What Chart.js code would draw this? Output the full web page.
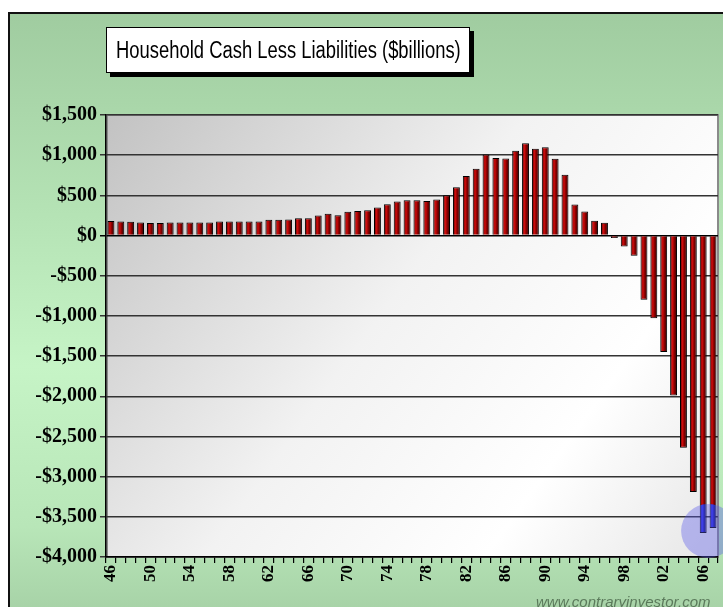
<!DOCTYPE html>
<html>
<head>
<meta charset="utf-8">
<script src="https://cdn.jsdelivr.net/npm/chart.js@4.4.1/dist/chart.umd.min.js"></script>
<style>
  html, body { margin: 0; padding: 0; background: #fff; overflow: hidden; width: 723px; height: 607px; }
  #frame {
    position: absolute; left: 8px; top: 12px; width: 760px; height: 640px;
    border: 2px solid #111;
    background: linear-gradient(to bottom, #a0cca0 0%, #b4e2b4 30%, #c6f4c6 55%, #b8e6b8 80%, #9ec89e 100%);
  }
  #chart { position: absolute; left: 0; top: 0; }
  #title {
    position: absolute; left: 106px; top: 27px; width: 362px; height: 44px;
    background: #fff; border: 1px solid #000; box-shadow: 4px 4px 0 #000;
    display: flex; align-items: center; justify-content: center; overflow: hidden;
  }
  #title span {
    font: 23px "Liberation Sans", Arial, sans-serif; color: #000;
    white-space: nowrap; display: inline-block; transform: scaleX(0.8);
  }
  #source {
    position: absolute; left: 536px; top: 593px;
    font: italic 15px "Liberation Sans", Arial, sans-serif; color: #5b7a5b;
    white-space: nowrap;
  }
</style>
</head>
<body>
<div id="frame"></div>
<canvas id="chart" width="723" height="607"></canvas>
<div id="title"><span>Household Cash Less Liabilities ($billions)</span></div>
<div id="source">www.contraryinvestor.com</div>
<script>
// --- Data ---
const years = [
  '46','47','48','49','50','51','52','53','54','55','56','57','58','59','60','61',
  '62','63','64','65','66','67','68','69','70','71','72','73','74','75','76','77',
  '78','79','80','81','82','83','84','85','86','87','88','89','90','91','92','93',
  '94','95','96','97','98','99','00','01','02','03','04','05','06','07'
];
const cashLessLiabilities = [
  180, 175, 172, 162, 155, 155, 162, 162, 162, 162, 162, 175, 175, 175, 175, 175,
  195, 195, 200, 215, 215, 250, 270, 252, 295, 305, 315, 350, 390, 425, 440, 440,
  430, 450, 500, 600, 740, 830, 1010, 965, 960, 1055, 1150, 1080, 1100, 955, 755, 385,
  300, 185, 160, -30, -135, -250, -800, -1030, -1450, -1990, -2640, -3190, -3700, -3640
];
const yMin = -4000;
const yMax = 1500;
const yStep = 500;
const labelEvery = 4;
const highlightYears = ['06', '07'];
const highlightValue = -3675;

function money(v) {
  return (v < 0 ? '-' : '') + '$' + Math.abs(v).toLocaleString('en-US');
}

// plot area: grey-to-white shaded panel with a thin grey frame
const plotBackground = {
  id: 'plotBackground',
  beforeDraw(chart) {
    const { ctx, chartArea: a } = chart;
    const g = ctx.createLinearGradient(a.left, a.top, a.right, a.bottom);
    g.addColorStop(0, '#c2c2c2');
    g.addColorStop(0.45, '#f2f2f2');
    g.addColorStop(0.75, '#ffffff');
    g.addColorStop(1, '#e6e6e6');
    ctx.save();
    ctx.fillStyle = g;
    ctx.fillRect(a.left, a.top, a.right - a.left, a.bottom - a.top);
    ctx.strokeStyle = '#8a8a8a';
    ctx.lineWidth = 2;
    ctx.strokeRect(a.left + 1, a.top, a.right - a.left - 1, a.bottom - a.top);
    ctx.restore();
  }
};

// blue highlight circle over the last two bars
const highlightCircle = {
  id: 'highlightCircle',
  afterDatasetsDraw(chart) {
    const { ctx, scales, chartArea: a } = chart;
    const i0 = years.indexOf(highlightYears[0]);
    const i1 = years.indexOf(highlightYears[1]);
    const cx = (scales.x.getPixelForValue(i0) + scales.x.getPixelForValue(i1)) / 2;
    const cy = scales.y.getPixelForValue(highlightValue);
    ctx.save();
    // recolour the bars blue only where there is something painted (inside the plot)
    ctx.save();
    ctx.beginPath();
    ctx.rect(a.left, a.top, a.right - a.left, a.bottom - a.top);
    ctx.clip();
    ctx.beginPath();
    ctx.arc(cx, cy, 27, 0, Math.PI * 2);
    ctx.globalCompositeOperation = 'hue';
    ctx.fillStyle = '#3030ff';
    ctx.fill();
    ctx.restore();
    // translucent tint over the whole disc
    ctx.beginPath();
    ctx.arc(cx, cy, 27, 0, Math.PI * 2);
    ctx.fillStyle = 'rgba(90, 90, 235, 0.38)';
    ctx.fill();
    ctx.restore();
  }
};

function barFill(context) {
  const chart = context.chart;
  const x = chart.scales.x;
  if (!x || !chart.chartArea) return '#900000';
  const cx = x.getPixelForValue(context.dataIndex);
  const w = 7;
  const g = chart.ctx.createLinearGradient(cx - w / 2, 0, cx + w / 2, 0);
  g.addColorStop(0, '#4a0000');
  g.addColorStop(0.35, '#d00c0c');
  g.addColorStop(0.6, '#8a0000');
  g.addColorStop(1, '#2a0000');
  return g;
}

const chart = new Chart(document.getElementById('chart').getContext('2d'), {
  type: 'bar',
  data: {
    labels: years,
    datasets: [{
      label: 'Household Cash Less Liabilities',
      data: cashLessLiabilities,
      backgroundColor: barFill,
      borderColor: '#000',
      borderWidth: 1,
      barPercentage: 0.7,
      categoryPercentage: 1.0
    }]
  },
  options: {
    responsive: false,
    devicePixelRatio: 1,
    animation: false,
    layout: { padding: { left: 10, top: 115, right: 5, bottom: 0 } },
    plugins: {
      legend: { display: false },
      title: { display: false },
      tooltip: { enabled: false }
    },
    scales: {
      x: {
        offset: true,
        grid: {
          display: true,
          offset: true,
          drawOnChartArea: false,
          drawTicks: true,
          tickLength: 6,
          color: '#000',
          lineWidth: 1.2
        },
        border: { display: true, color: '#000', width: 1.5 },
        ticks: {
          autoSkip: false,
          minRotation: 90,
          maxRotation: 90,
          padding: 2,
          color: '#000',
          font: { family: '"Liberation Serif", "Times New Roman", serif', size: 17, weight: 'bold' },
          callback: function (val, idx) {
            return idx % labelEvery === 0 ? this.getLabelForValue(val) : '';
          }
        },
        afterFit: (s) => {
          s.height = 50;
          s.paddingLeft = 0;
          s.paddingRight = 0;
        }
      },
      y: {
        min: yMin,
        max: yMax,
        grid: {
          color: (c) => (c.tick && c.tick.value === 0 ? '#000' : '#333'),
          lineWidth: 1.5,
          tickLength: 6,
          drawTicks: true
        },
        border: { display: true, color: '#000', width: 1.5 },
        ticks: {
          stepSize: yStep,
          padding: 3,
          color: '#000',
          font: { family: '"Liberation Serif", "Times New Roman", serif', size: 20, weight: 'bold' },
          callback: (v) => money(v)
        },
        afterFit: (s) => { s.width = 96; }
      }
    }
  },
  plugins: [plotBackground, highlightCircle]
});
</script>
</body>
</html>
